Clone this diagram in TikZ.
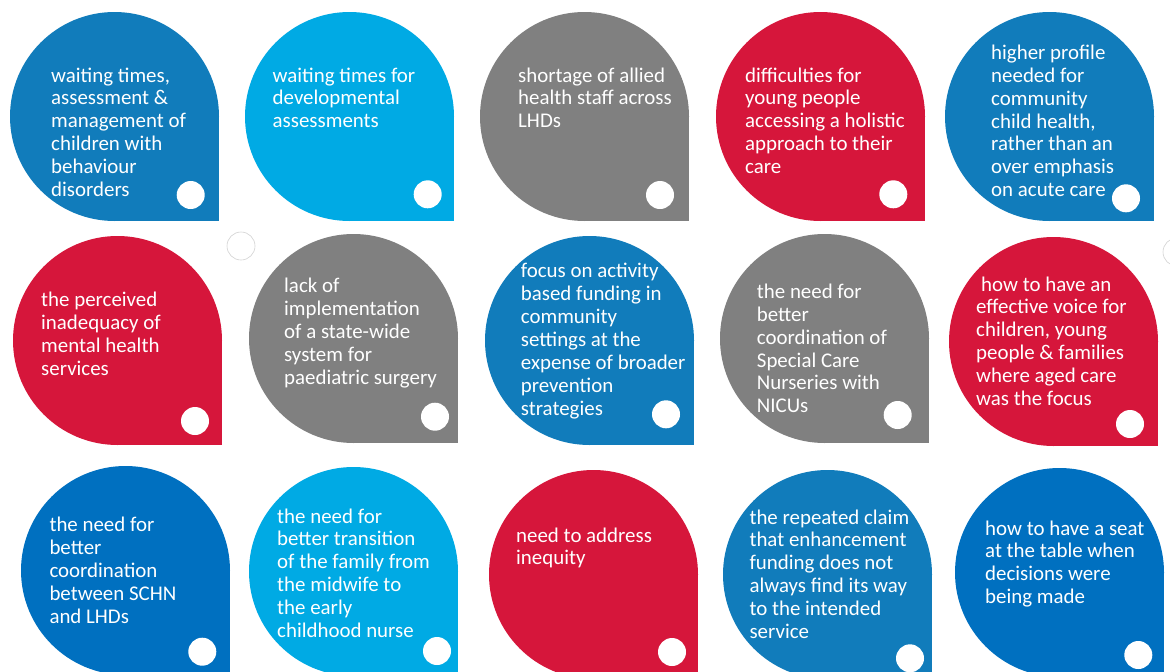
\documentclass[tikz,border=0pt]{standalone}
\usepackage{fontspec}
\setmainfont{Carlito}
\usepackage{xcolor}
\usepackage{tikz}
\usetikzlibrary{positioning,calc}

\definecolor{cblue}{RGB}{17,124,187}
\definecolor{clight}{RGB}{0,170,228}
\definecolor{cgray}{RGB}{128,128,128}
\definecolor{cred}{RGB}{214,22,59}
\definecolor{cdark}{RGB}{0,112,192}

\begin{document}
\begin{tikzpicture}[x=1pt, y=-1pt,
    bubble/.style={circle, inner sep=0pt, outer sep=0pt, minimum size=209pt},
    dot/.style={circle, fill=white, inner sep=0pt, minimum size=28pt},
    ring/.style={circle, draw=black!18, line width=0.6pt, inner sep=0pt, minimum size=28pt},
    words/.style={anchor=base west, align=left, inner sep=0pt, text=white,
        font=\fontsize{20.9}{22.9}\selectfont}]
            \useasboundingbox (0,0) rectangle (1170,672);
            \def\Rad{104.5}

            % row 1
            \node (Waiting) at (10+\Rad,12+\Rad) [bubble, fill=cblue] {};
            \node (Develop) at (245+\Rad,12+\Rad) [bubble, fill=clight] {};
            \node (Allied) at (480+\Rad,12+\Rad) [bubble, fill=cgray] {};
            \node (Holistic) at (716+\Rad,12+\Rad) [bubble, fill=cred] {};
            \node (Profile) at (945+\Rad,12+\Rad) [bubble, fill=cblue] {};

            % row 2
            \node (Mental) at (13+\Rad,236+\Rad) [bubble, fill=cred] {};
            \node (Surgery) at (249+\Rad,234+\Rad) [bubble, fill=cgray] {};
            \node (Funding) at (485+\Rad,236+\Rad) [bubble, fill=cblue] {};
            \node (Nurseries) at (720+\Rad,234+\Rad) [bubble, fill=cgray] {};
            \node (Voice) at (949+\Rad,237+\Rad) [bubble, fill=cred] {};

            % row 3
            \node (Schn) at (21+\Rad,466+\Rad) [bubble, fill=cdark] {};
            \node (Transition) at (249+\Rad,467+\Rad) [bubble, fill=clight] {};
            \node (Inequity) at (489+\Rad,470+\Rad) [bubble, fill=cred] {};
            \node (Claim) at (723+\Rad,470+\Rad) [bubble, fill=cblue] {};
            \node (Seat) at (955+\Rad,468+\Rad) [bubble, fill=cdark] {};

            % square corners
            \fill [cblue] (Waiting.center) rectangle (Waiting.south -| Waiting.east);
            \fill [clight] (Develop.center) rectangle (Develop.south -| Develop.east);
            \fill [cgray] (Allied.center) rectangle (Allied.south -| Allied.east);
            \fill [cred] (Holistic.center) rectangle (Holistic.south -| Holistic.east);
            \fill [cblue] (Profile.center) rectangle (Profile.south -| Profile.east);
            \fill [cred] (Mental.center) rectangle (Mental.south -| Mental.east);
            \fill [cgray] (Surgery.center) rectangle (Surgery.south -| Surgery.east);
            \fill [cblue] (Funding.center) rectangle (Funding.south -| Funding.east);
            \fill [cgray] (Nurseries.center) rectangle (Nurseries.south -| Nurseries.east);
            \fill [cred] (Voice.center) rectangle (Voice.south -| Voice.east);
            \fill [cdark] (Schn.center) rectangle (Schn.south -| Schn.east);
            \fill [clight] (Transition.center) rectangle (Transition.south -| Transition.east);
            \fill [cred] (Inequity.center) rectangle (Inequity.south -| Inequity.east);
            \fill [cblue] (Claim.center) rectangle (Claim.south -| Claim.east);
            \fill [cdark] (Seat.center) rectangle (Seat.south -| Seat.east);

            % texts (placed by the baseline of their last line)
            \node (WaitingTxt) at (51,196.5) [words] {waiting times,\\assessment \&\\management of\\children with\\behaviour\\disorders};
            \node (DevelopTxt) at (272.5,127.8) [words] {waiting times for\\developmental\\assessments};
            \node (AlliedTxt) at (518,127.8) [words] {shortage of allied\\health staff across\\LHDs};
            \node (HolisticTxt) at (745,173.6) [words] {difficulties for\\young people\\accessing a holistic\\approach to their\\care};
            \node (ProfileTxt) at (991,196.7) [words] {higher profile\\needed for\\community\\child health,\\rather than an\\over emphasis\\on acute care};
            \node (MentalTxt) at (41,375.2) [words] {the perceived\\inadequacy of\\mental health\\services};
            \node (SurgeryTxt) at (284,384.3) [words] {lack of\\implementation\\of a state-wide\\system for\\paediatric surgery};
            \node (FundingTxt) at (520.7,415.1) [words] {focus on activity\\based funding in\\community\\settings at the\\expense of broader\\prevention\\strategies};
            \node (NurseriesTxt) at (756.7,412.8) [words] {the need for\\better\\coordination of\\Special Care\\Nurseries with\\NICUs};
            \node (VoiceTxt) at (976,405.5) [words] {\hspace*{5pt}how to have an\\effective voice for\\children, young\\people \& families\\where aged care\\was the focus};
            \node (SchnTxt) at (49.3,623.3) [words] {the need for\\better\\coordination\\between SCHN\\and LHDs};
            \node (TransitionTxt) at (277,637.5) [words] {the need for\\better transition\\of the family from\\the midwife to\\the early\\childhood nurse};
            \node (InequityTxt) at (516,564.9) [words] {need to address\\inequity};
            \node (ClaimTxt) at (749.3,638.5) [words] {the repeated claim\\that enhancement\\funding does not\\always find its way\\to the intended\\service};
            \node (SeatTxt) at (985,603.7) [words] {how to have a seat\\at the table when\\decisions were\\being made};

            % white dots
            \node (WaitingDot) at (190.7,195) [dot] {};
            \node (DevelopDot) at (427.7,194.3) [dot] {};
            \node (AlliedDot) at (660,195) [dot] {};
            \node (HolisticDot) at (893.3,194.3) [dot] {};
            \node (ProfileDot) at (1126,198.3) [dot] {};
            \node (MentalDot) at (195,421) [dot] {};
            \node (SurgeryDot) at (435,416.7) [dot] {};
            \node (FundingDot) at (666,414.3) [dot] {};
            \node (NurseriesDot) at (897.7,415) [dot] {};
            \node (VoiceDot) at (1130,424) [dot] {};
            \node (SchnDot) at (202.3,651.7) [dot] {};
            \node (TransitionDot) at (437,651) [dot] {};
            \node (InequityDot) at (672,652) [dot] {};
            \node (ClaimDot) at (910,658.3) [dot] {};
            \node (SeatDot) at (1138.3,655) [dot] {};

            % stray outlines
            \node (RingLeft) at (241,246) [ring] {};
            \node (RingRight) at (1177,252) [ring] {};
        \end{tikzpicture}
\end{document}
